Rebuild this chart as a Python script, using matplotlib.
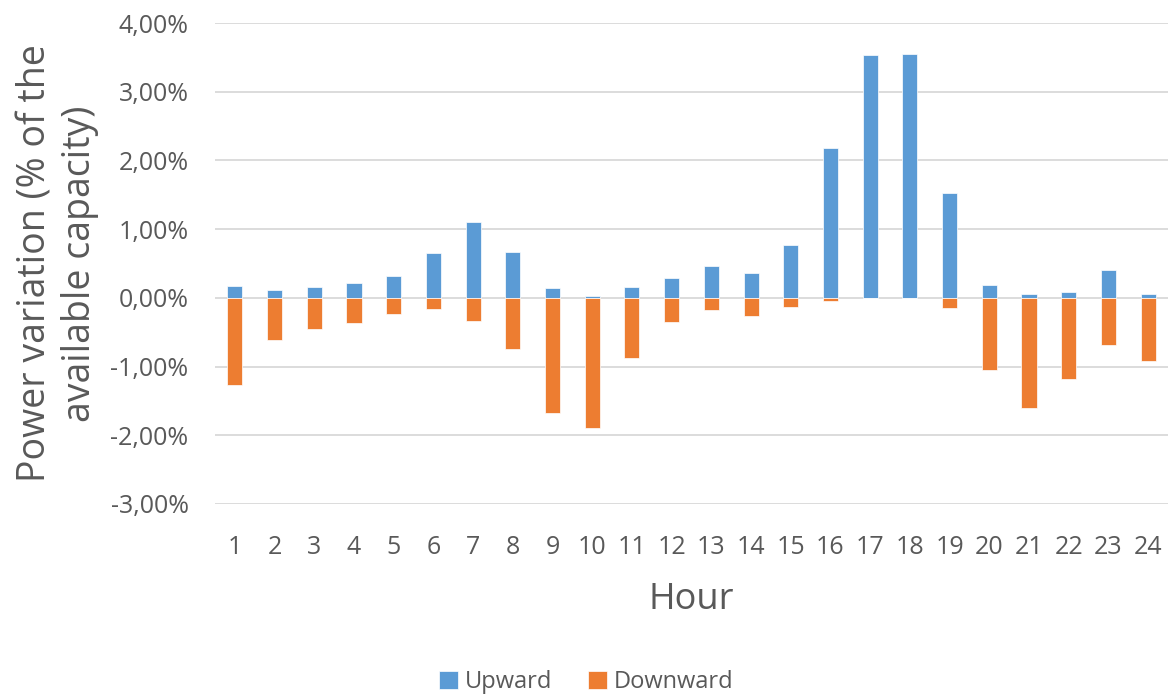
import matplotlib.pyplot as plt
from matplotlib.ticker import FuncFormatter

hours = list(range(1, 25))
upward = [0.175, 0.12, 0.155, 0.21, 0.32, 0.66, 1.11, 0.67, 0.15, 0.03,
          0.155, 0.285, 0.46, 0.365, 0.775, 2.18, 3.53, 3.55, 1.53, 0.18,
          0.05, 0.08, 0.41, 0.06]
downward = [-1.27, -0.61, -0.46, -0.365, -0.24, -0.165, -0.33, -0.75, -1.68, -1.89,
            -0.88, -0.35, -0.17, -0.27, -0.14, -0.04, 0.0, 0.0, -0.15, -1.05,
            -1.60, -1.18, -0.69, -0.92]

BLUE = "#5B9BD5"
ORANGE = "#ED7D31"
TEXT = "#595959"


def main():
    plt.rcParams["font.family"] = ["Open Sans", "DejaVu Sans"]
    fig = plt.figure(figsize=(11.73, 6.95), dpi=100)
    ax = fig.add_axes([215 / 1173, 1 - 504 / 695, 953 / 1173, 481 / 695])

    ax.bar(hours, upward, width=0.38, color=BLUE, edgecolor="white", linewidth=0.5,
           label="Upward", zorder=3)
    ax.bar(hours, downward, width=0.38, color=ORANGE, edgecolor="white", linewidth=0.5,
           label="Downward", zorder=3)

    ax.set_xlim(0.5, 24.5)
    ax.set_ylim(-3, 4)
    ax.set_xticks(hours)
    ax.set_yticks(range(-3, 5))
    ax.yaxis.set_major_formatter(FuncFormatter(lambda v, p: f"{v:.2f}%".replace(".", ",")))
    ax.grid(axis="y", color="#D9D9D9", linewidth=1.3, zorder=0)
    for s in ax.spines.values():
        s.set_visible(False)
    ax.tick_params(axis="both", length=0, labelsize=18, labelcolor=TEXT)
    ax.tick_params(axis="y", pad=19)
    ax.tick_params(axis="x", pad=22)

    ax.set_xlabel("Hour", fontsize=26, color=TEXT)
    ax.xaxis.set_label_coords(0.5, -0.2)
    ax.xaxis.label.set_va("center")
    ax.set_ylabel("Power variation (% of the\navailable capacity)", fontsize=27, color=TEXT,
                  linespacing=1.2)
    ax.yaxis.set_label_coords(-0.165, 0.5)
    ax.yaxis.label.set_va("center")

    fig.legend(loc="center", bbox_to_anchor=(0.5, 1 - 682 / 695), ncol=2, frameon=False,
               fontsize=17, labelcolor=TEXT, handlelength=0.8, handleheight=0.8,
               handletextpad=0.3, columnspacing=1.5)

    fig.savefig("out.png", dpi=100)


if __name__ == '__main__':
    main()
